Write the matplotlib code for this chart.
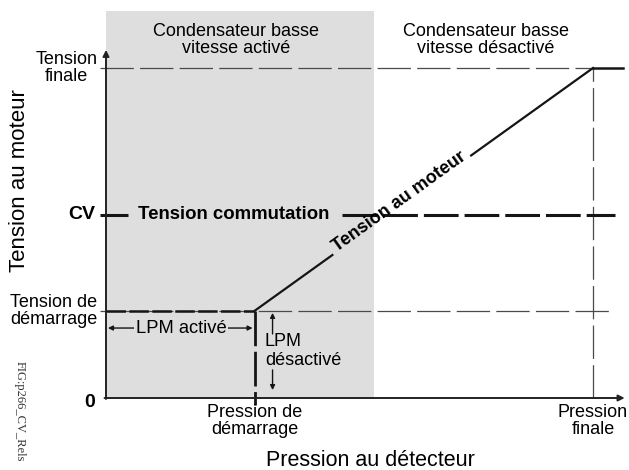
import numpy as np
import matplotlib.pyplot as plt
from matplotlib.patches import Rectangle

plt.rcParams['font.family'] = ['Liberation Sans', 'DejaVu Sans']
plt.rcParams['lines.scale_dashes'] = False

# Valeurs du schéma (unités arbitraires : pression en x, tension en y)
pression_demarrage = 3.05
pression_finale = 10.0
pression_condensateur = 5.5     # fin de la zone "condensateur activé"
tension_demarrage = 2.64
tension_cv = 5.55
tension_finale = 10.0

courbe_x = [0, pression_demarrage, pression_finale, 10.62]
courbe_y = [tension_demarrage, tension_demarrage, tension_finale, tension_finale]

etiquettes_y = ['Tension\nfinale', 'CV', 'Tension de\ndémarrage', '0']
valeurs_y = [tension_finale, tension_cv, tension_demarrage, 0]
etiquettes_x = ['Pression de\ndémarrage', 'Pression\nfinale']
valeurs_x = [pression_demarrage, pression_finale]

NOIR = '#151515'
GRIS = '#4a4a4a'
FOND = '#dedede'

fig = plt.figure(figsize=(6.29, 4.70), dpi=100)
ax = fig.add_axes([0, 0, 1, 1])
sx, sy = 48.7, 33.0   # pixels par unité
ax.set_xlim(-106 / sx, (629 - 106) / sx)
ax.set_ylim((398 - 470) / sy, 398 / sy)
ax.axis('off')

# zone grise
ax.add_patch(Rectangle((0, 0), pression_condensateur, 11.73, color=FOND, zorder=0, lw=0))

# lignes de repère fines
ax.plot([-0.12, pression_finale], [tension_finale] * 2, color=GRIS, lw=0.9, dashes=(24, 4.5))
ax.plot([-0.12, 10.39], [tension_demarrage] * 2, color=GRIS, lw=0.9, dashes=(24, 4.5))
ax.plot([pression_finale] * 2, [0, tension_finale], color=GRIS, lw=0.9, dashes=(24, 4.5))

# tension de commutation
ax.plot([-0.12, 0.45], [tension_cv] * 2, color=NOIR, lw=2.2, solid_capstyle='butt')
ax.text(0.66, tension_cv, 'Tension commutation', fontsize=13.4, fontweight='bold',
        ha='left', va='center')
ax.plot([4.85, 10.45], [tension_cv] * 2, color=NOIR, lw=2.2, dashes=(25, 4.3))

# courbe tension au moteur
ax.plot(courbe_x[:2], courbe_y[:2], color=NOIR, lw=1.8, dashes=(14, 2.5))
p0 = np.array([courbe_x[1], courbe_y[1]])
p1 = np.array([courbe_x[2], courbe_y[2]])
a, b, m = p0 + 0.23 * (p1 - p0), p0 + 0.64 * (p1 - p0), p0 + 0.435 * (p1 - p0)
ax.plot([p0[0], a[0]], [p0[1], a[1]], color=NOIR, lw=1.6)
ax.plot([b[0], p1[0]], [b[1], p1[1]], color=NOIR, lw=1.6)
ax.plot(courbe_x[2:], courbe_y[2:], color=NOIR, lw=1.8)
d = ax.transData.transform(p1) - ax.transData.transform(p0)
angle = np.degrees(np.arctan2(d[1], d[0]))
ax.text(m[0], m[1], 'Tension au moteur', fontsize=13, fontweight='bold',
        rotation=angle, rotation_mode='anchor', ha='center', va='baseline')

# verticale pression de démarrage
ax.plot([pression_demarrage] * 2, [tension_demarrage, -0.2], color=NOIR, lw=2.0,
        dashes=(25, 4))

# axes avec flèches
fleche = dict(arrowstyle='-|>', color='#222222', lw=1.4, mutation_scale=9,
              shrinkA=0, shrinkB=0)
ax.annotate('', xy=(0, 10.55), xytext=(0, -0.03), arrowprops=fleche)
ax.annotate('', xy=(10.65, 0), xytext=(-0.03, 0), arrowprops=fleche)

# LPM activé
y_lpm = 2.12
ax.annotate('', xy=(0.04, y_lpm), xytext=(pression_demarrage - 0.04, y_lpm),
            arrowprops=dict(arrowstyle='<|-|>', color=NOIR, lw=1.0, mutation_scale=7,
                            shrinkA=0, shrinkB=0))
ax.text(1.54, y_lpm, 'LPM activé', fontsize=13.2, ha='center', va='center',
        bbox=dict(facecolor=FOND, edgecolor='none', pad=1.5))

# LPM désactivé
x_a = pression_demarrage + 0.37
petite = dict(arrowstyle='-|>', color=NOIR, lw=1.0, mutation_scale=7, shrinkA=0, shrinkB=0)
ax.annotate('', xy=(x_a, 2.58), xytext=(x_a, 1.94), arrowprops=petite)
ax.annotate('', xy=(x_a, 0.24), xytext=(x_a, 0.85), arrowprops=petite)
ax.text(pression_demarrage + 0.21, 1.42, 'LPM\ndésactivé', fontsize=13, ha='left',
        va='center', linespacing=1.15)

# étiquettes de l'axe vertical
for lab, v in zip(etiquettes_y, valeurs_y):
    gras = lab in ('CV', '0')
    ax.annotate(lab, xy=(0, v), xytext=(-6 if not gras else -8, 0 if lab != '0' else -3),
                textcoords='offset points', ha='right', va='center',
                multialignment='center', linespacing=1.0,
                fontsize=14 if gras else 13, fontweight='bold' if gras else 'normal')

# étiquettes de l'axe horizontal
for lab, v in zip(etiquettes_x, valeurs_x):
    ax.annotate(lab, xy=(v, 0), xytext=(0, -4), textcoords='offset points',
                ha='center', va='top', fontsize=13, linespacing=1.0)

# titres des zones
ax.text(2.67, 10.85, 'Condensateur basse\nvitesse activé', fontsize=13,
        ha='center', va='center', linespacing=1.0)
ax.text(7.8, 10.85, 'Condensateur basse\nvitesse désactivé', fontsize=13,
        ha='center', va='center', linespacing=1.0)

# titres des axes
ax.text(5.42, -1.88, 'Pression au détecteur', fontsize=15.5, ha='center', va='center')
ax.text(-1.78, 6.6, 'Tension au moteur', fontsize=16, rotation=90, ha='center', va='center')
ax.text(-1.77, -0.39, 'FIG:p266_CV_Rels', fontsize=9, rotation=-90, ha='center',
        va='center', family=['Liberation Serif', 'DejaVu Serif'], color='#333333')

fig.savefig('out.png', dpi=100)
